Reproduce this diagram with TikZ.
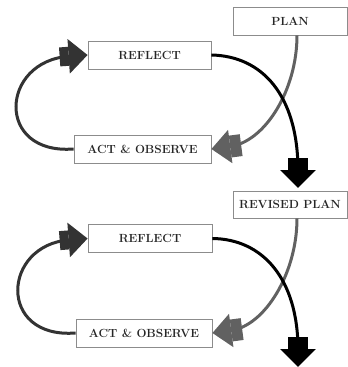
\documentclass[tikz,border=0pt]{standalone}
\usetikzlibrary{arrows.meta}
\begin{document}
\begin{tikzpicture}[x=1pt,y=-1pt,
  box/.style={draw=black!45, line width=0.8pt, fill=white, inner sep=0pt,
    minimum height=28pt, font=\fontsize{11.8}{13}\selectfont\bfseries, text=black!85},
  loopline/.style={line width=3pt, draw=black!80,
    -{Rectangle[length=9pt,width=19pt,sep=0pt]Triangle[length=19pt,width=34pt,sep=0pt]}},
  planline/.style={line width=3pt, draw=black!62,
    -{Rectangle[length=11pt,width=22pt,sep=0pt]Triangle[length=19pt,width=33pt,sep=0pt]}},
  nextline/.style={line width=3pt, draw=black,
    -{Rectangle[length=12pt,width=20pt,sep=0pt]Triangle[length=18pt,width=35pt,sep=0pt]}}
]
\useasboundingbox (0,0) rectangle (348,367);
% first cycle
\node[box, minimum width=114pt] (plan) at (290,21) {PLAN};
\node[box, minimum width=123pt] (refl1) at (149.5,55) {REFLECT};
\node[box, minimum width=137pt] (act1) at (142.5,149) {ACT \& OBSERVE};
% second cycle
\node[box, minimum width=114pt, minimum height=27pt] (rplan) at (290,204.5) {REVISED PLAN};
\node[box, minimum width=124pt] (refl2) at (150,238.5) {REFLECT};
\node[box, minimum width=136pt] (act2) at (144,333) {ACT \& OBSERVE};
\coordinate (end1) at (298,188);
\coordinate (end2) at (298,367);

% left loops
\draw[loopline] (act1.west) .. controls (-5,155) and (0,61) .. (refl1.west);
\draw[loopline] (act2.west) .. controls (-3,339) and (2,245) .. (refl2.west);
% plan arrows
\draw[planline] ([xshift=7pt]plan.south) .. controls (297,90) and (265,142) .. (act1.east);
\draw[planline] ([xshift=7pt]rplan.south) .. controls (297,273) and (265,326) .. (act2.east);
% next arrows
\draw[nextline] (refl1.east) .. controls (262,56) and (298,95) .. (end1);
\draw[nextline] (refl2.east) .. controls (262,239) and (298,278) .. (end2);
\end{tikzpicture}
\end{document}
